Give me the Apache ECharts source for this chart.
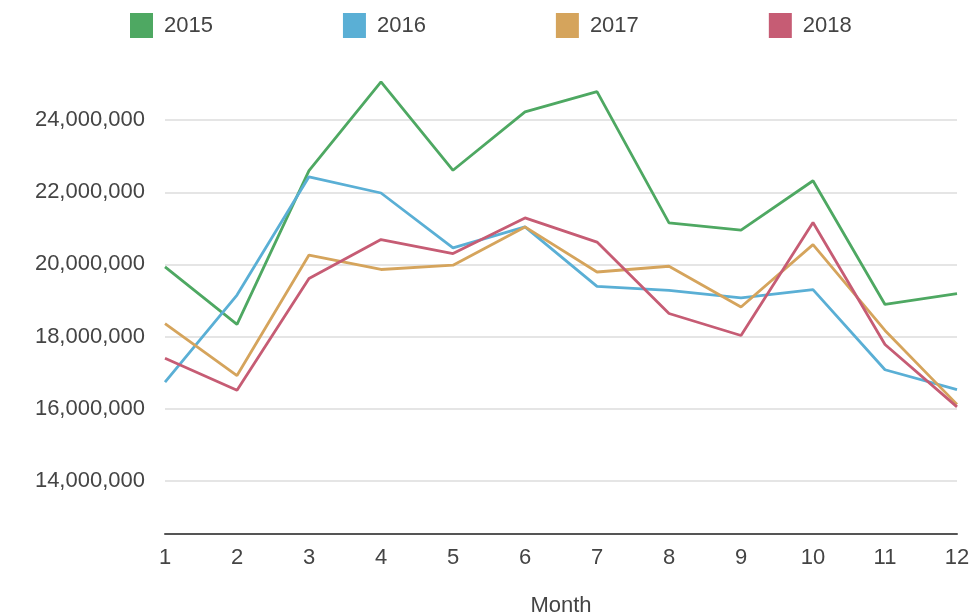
<!DOCTYPE html>
<html>
<head>
<meta charset="utf-8">
<script src="https://cdn.jsdelivr.net/npm/echarts@6/dist/echarts.min.js"></script>
<style>html,body{margin:0;padding:0;background:#fff;}#c{width:970px;height:616px;}</style>
</head>
<body>
<div id="c"></div>
<script>
const months = ['1','2','3','4','5','6','7','8','9','10','11','12'];
const seriesNames = ['2015','2016','2017','2018'];
const s2015 = [19930000,18340000,22600000,25060000,22610000,24230000,24790000,21150000,20950000,22320000,18890000,19190000];
const s2016 = [16740000,19150000,22430000,21980000,20460000,21040000,19390000,19280000,19070000,19300000,17080000,16530000];
const s2017 = [18360000,16920000,20260000,19860000,19980000,21040000,19790000,19950000,18820000,20550000,18170000,16120000];
const s2018 = [17400000,16510000,19610000,20690000,20300000,21290000,20620000,18640000,18030000,21160000,17780000,16050000];
const colors = ['#4ea862','#5aafd5','#d5a45c','#c65c74'];
const yMin = 12000000, yMax = 26000000, yStep = 2000000;

const chart = echarts.init(document.getElementById('c'), null, {renderer:'canvas'});
const font = 'Liberation Sans, Arial, Helvetica, sans-serif';
const dataSets = [s2015, s2016, s2017, s2018];
chart.setOption({
  animation: false,
  color: colors,
  textStyle: {fontFamily: font},
  legend: {
    top: 13, left: 130, padding: 0,
    itemWidth: 23, itemHeight: 25, itemGap: 130,
    icon: 'rect',
    textStyle: {fontSize: 22, color: '#444', fontFamily: font, padding: [0, 0, 0, 6]},
    data: seriesNames
  },
  grid: {left: 165, right: 13, top: 48, bottom: 63, outerBoundsMode: 'none', containLabel: false},
  xAxis: {
    type: 'category',
    data: months,
    boundaryGap: false,
    offset: -19,
    axisLine: {lineStyle: {color: '#555', width: 2}},
    axisTick: {show: false},
    axisLabel: {fontSize: 22, color: '#444', margin: 13, fontFamily: font},
    splitLine: {show: false},
    name: 'Month',
    nameLocation: 'middle',
    nameGap: 61,
    nameTextStyle: {fontSize: 22, color: '#444', fontFamily: font}
  },
  yAxis: {
    type: 'value',
    min: yMin, max: yMax, interval: yStep,
    axisLine: {show: false},
    axisTick: {show: false},
    axisLabel: {
      fontSize: 22, color: '#444', margin: 20, fontFamily: font,
      formatter: v => (v <= yMin || v >= yMax) ? '' : v.toLocaleString('en-US')
    },
    splitLine: {lineStyle: {color: ['rgba(0,0,0,0)','#dcdcdc','#dcdcdc','#dcdcdc','#dcdcdc','#dcdcdc','#dcdcdc','rgba(0,0,0,0)'], width: 1.5}}
  },
  series: seriesNames.map((n, i) => ({
    name: n, type: 'line', data: dataSets[i],
    symbol: 'none', lineStyle: {width: 2.8}
  }))
});
</script>
</body>
</html>
